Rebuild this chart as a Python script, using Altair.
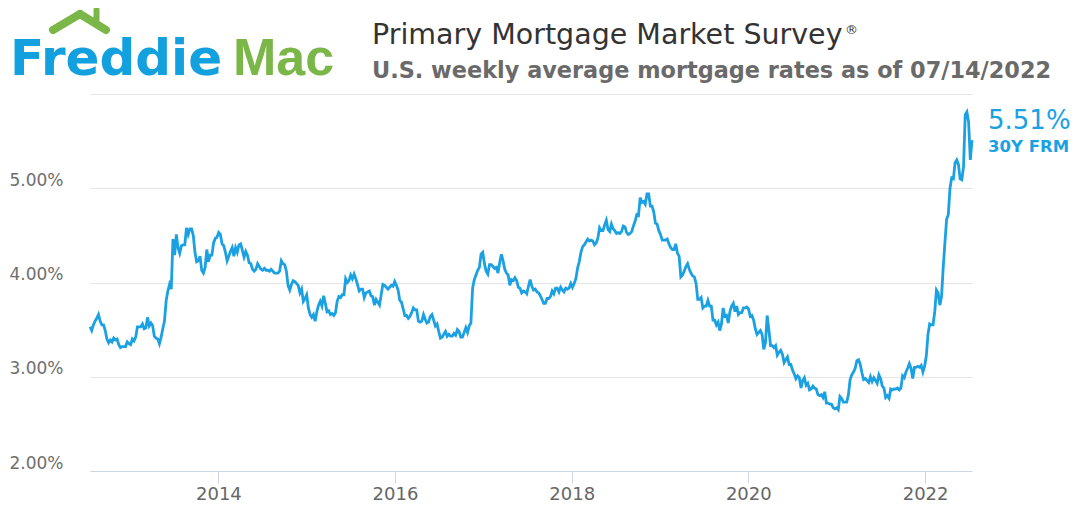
import altair as alt
import pandas as pd

# Weekly 30-year fixed rate (%), Freddie Mac PMMS, 2012-07-19 .. 2022-07-14
rates_2012 = [3.53, 3.49,
              3.55, 3.59, 3.62, 3.66, 3.59,
              3.55, 3.55, 3.49, 3.40,
              3.36, 3.39, 3.37, 3.41,
              3.39, 3.40, 3.34, 3.31, 3.32,
              3.32, 3.32, 3.37, 3.35]
rates_2013 = [3.34, 3.40, 3.38, 3.42, 3.53,
              3.53, 3.53, 3.56, 3.51,
              3.52, 3.63, 3.54, 3.57,
              3.54, 3.43, 3.41, 3.40,
              3.35, 3.42, 3.51, 3.59, 3.81,
              3.91, 3.98, 3.93, 4.46,
              4.29, 4.51, 4.37, 4.31,
              4.39, 4.40, 4.40, 4.58, 4.51,
              4.57, 4.57, 4.50, 4.32,
              4.22, 4.23, 4.28, 4.13, 4.10,
              4.16, 4.35, 4.22, 4.29,
              4.29, 4.42, 4.47, 4.48]
rates_2014 = [4.53, 4.51, 4.41, 4.39, 4.32,
              4.23, 4.28, 4.33, 4.37,
              4.28, 4.37, 4.32, 4.40,
              4.41, 4.34, 4.27, 4.33,
              4.29, 4.21, 4.20, 4.14, 4.12,
              4.14, 4.20, 4.17, 4.14,
              4.13, 4.15, 4.13, 4.13, 4.12,
              4.14, 4.12, 4.10, 4.10,
              4.10, 4.12, 4.23, 4.20,
              4.19, 4.12, 3.97, 3.92, 3.98,
              4.02, 4.01, 3.99, 3.97,
              3.89, 3.93, 3.80, 3.83, 3.87]
rates_2015 = [3.73, 3.66, 3.63, 3.66,
              3.59, 3.69, 3.76, 3.80,
              3.75, 3.86, 3.78, 3.69,
              3.70, 3.66, 3.67, 3.65, 3.68,
              3.80, 3.85, 3.84, 3.87,
              3.87, 4.04, 4.00, 4.02,
              4.08, 4.04, 4.09, 4.04, 3.98,
              3.91, 3.93, 3.93, 3.84,
              3.89, 3.90, 3.91, 3.86,
              3.85, 3.76, 3.82, 3.79, 3.76,
              3.87, 3.98, 3.97, 3.95,
              3.93, 3.95, 3.97, 3.96, 4.01]
rates_2016 = [3.97, 3.92, 3.81, 3.79,
              3.72, 3.65, 3.65, 3.62,
              3.64, 3.68, 3.73, 3.71, 3.71,
              3.59, 3.58, 3.59, 3.66,
              3.61, 3.57, 3.58, 3.64,
              3.66, 3.60, 3.54, 3.56, 3.48,
              3.41, 3.42, 3.45, 3.48,
              3.43, 3.45, 3.43, 3.43,
              3.46, 3.44, 3.50, 3.48, 3.42,
              3.42, 3.47, 3.52, 3.47,
              3.54, 3.57, 3.94, 4.03,
              4.08, 4.13, 4.16, 4.30, 4.32]
rates_2017 = [4.20, 4.12, 4.09, 4.19,
              4.19, 4.17, 4.15, 4.16,
              4.10, 4.21, 4.30, 4.23, 4.14,
              4.10, 4.08, 3.97, 4.03,
              4.02, 4.05, 4.02, 3.95,
              3.94, 3.89, 3.91, 3.90, 3.88,
              3.96, 4.03, 3.96, 3.92,
              3.93, 3.90, 3.89, 3.86, 3.82,
              3.78, 3.78, 3.83, 3.83,
              3.85, 3.91, 3.88, 3.94,
              3.94, 3.90, 3.95, 3.92, 3.90,
              3.94, 3.93, 3.94, 3.99]
rates_2018 = [3.95, 3.99, 4.04, 4.15,
              4.22, 4.32, 4.38, 4.40,
              4.43, 4.46, 4.44, 4.45, 4.44,
              4.40, 4.42, 4.47, 4.58,
              4.55, 4.55, 4.61, 4.66, 4.56,
              4.54, 4.62, 4.57, 4.55,
              4.52, 4.53, 4.52, 4.54,
              4.60, 4.59, 4.53, 4.51, 4.52,
              4.54, 4.60, 4.65, 4.72,
              4.71, 4.90, 4.85, 4.86,
              4.83, 4.94, 4.94, 4.81, 4.81,
              4.75, 4.63, 4.62, 4.55]
rates_2019 = [4.51, 4.45, 4.45, 4.45, 4.46,
              4.41, 4.37, 4.35, 4.35,
              4.41, 4.31, 4.28, 4.06,
              4.08, 4.12, 4.17, 4.20,
              4.14, 4.10, 4.07, 4.06, 3.99,
              3.82, 3.82, 3.84, 3.73,
              3.75, 3.75, 3.81, 3.75,
              3.75, 3.60, 3.60, 3.55, 3.58,
              3.49, 3.56, 3.73, 3.64,
              3.65, 3.57, 3.69, 3.75, 3.78,
              3.69, 3.75, 3.66, 3.68,
              3.68, 3.73, 3.73, 3.74]
rates_2020 = [3.72, 3.64, 3.65, 3.60, 3.51,
              3.45, 3.47, 3.49, 3.45,
              3.29, 3.36, 3.65, 3.50,
              3.33, 3.33, 3.31, 3.33, 3.23,
              3.26, 3.28, 3.24, 3.15,
              3.18, 3.21, 3.13, 3.13,
              3.07, 3.03, 2.98, 3.01, 2.99,
              2.88, 2.96, 2.99, 2.91,
              2.93, 2.86, 2.87, 2.90,
              2.88, 2.87, 2.81, 2.80, 2.81,
              2.78, 2.84, 2.72, 2.72,
              2.71, 2.71, 2.67, 2.66, 2.67]
rates_2021 = [2.65, 2.79, 2.77, 2.73,
              2.73, 2.73, 2.81, 2.97,
              3.02, 3.05, 3.09, 3.17,
              3.18, 3.13, 3.04, 2.97, 2.98,
              2.96, 2.94, 3.00, 2.95,
              2.99, 2.96, 2.93, 3.02,
              2.98, 2.90, 2.88, 2.78, 2.80,
              2.77, 2.87, 2.86, 2.87,
              2.87, 2.88, 2.86, 2.88, 3.01,
              2.99, 3.05, 3.09, 3.14,
              3.09, 2.98, 3.10, 3.10,
              3.11, 3.10, 3.12, 3.05, 3.11]
rates_2022 = [3.22, 3.45, 3.56, 3.55,
              3.55, 3.69, 3.92, 3.89,
              3.76, 3.85, 4.16, 4.42, 4.67,
              4.72, 5.00, 5.11, 5.10,
              5.27, 5.30, 5.25, 5.10,
              5.09, 5.23, 5.78, 5.81, 5.70,
              5.30, 5.51]

rates = (rates_2012 + rates_2013 + rates_2014 + rates_2015 + rates_2016 + rates_2017
         + rates_2018 + rates_2019 + rates_2020 + rates_2021 + rates_2022)
last_date = "2022-07-14"
first_date = "2012-07-19"
dates = pd.date_range(end=last_date, periods=len(rates), freq="7D")
df = pd.DataFrame({"date": dates, "rate": rates})

tick_years = [2014, 2016, 2018, 2020, 2022]
y_ticks = [2, 3, 4, 5, 6]

title_text = "Primary Mortgage Market Survey"
subtitle_text = "U.S. weekly average mortgage rates as of 07/14/2022"
latest_label = "5.51%"
series_label = "30Y FRM"

BLUE = "#1ba1e2"
LOGO_BLUE = "#13a0de"
LOGO_GREEN = "#7ab648"
FONT = "DejaVu Sans"

x_enc = alt.X(
    "date:T",
    scale=alt.Scale(domain=[first_date, last_date]),
    axis=alt.Axis(
        values=[alt.DateTime(year=y, month=1, date=1) for y in tick_years],
        format="%Y", grid=False, title=None,
        domainColor="#ccd6eb", tickColor="#ccd6eb", tickSize=12,
        labelPadding=2, labelFontSize=18, labelColor="#666666", labelFont=FONT,
        labelBaseline="top",
    ),
)
y_enc = alt.Y(
    "rate:Q",
    scale=alt.Scale(domain=[2, 6], nice=False, zero=False),
    axis=alt.Axis(
        values=y_ticks, title=None, domain=False, ticks=False, tickSize=0,
        labelExpr="datum.value >= 6 ? '' : format(datum.value, '.2f') + '%'",
        labelPadding=27, labelFontSize=17, labelColor="#6e6e6e", labelFont=FONT,
        labelBaseline="alphabetic", labelOffset=-3,
        gridColor="#e6e6e6", gridWidth=1,
    ),
)

line = alt.Chart(df).mark_line(color=BLUE, strokeWidth=2.8).encode(x=x_enc, y=y_enc)


def text_layer(s, px, py, size, color, weight="normal", font=FONT):
    return alt.Chart(pd.DataFrame({"t": [s]})).mark_text(
        align="left", baseline="alphabetic", fontSize=size, color=color,
        fontWeight=weight, font=font,
    ).encode(x=alt.value(px), y=alt.value(py), text="t:N")


def rule_layer(x1, y1, x2, y2, width, color):
    return alt.Chart(pd.DataFrame({"k": [0]})).mark_rule(
        color=color, strokeWidth=width, strokeCap="round"
    ).encode(x=alt.value(x1), y=alt.value(y1), x2=alt.value(x2), y2=alt.value(y2))


layers = [
    line,
    # Freddie Mac logo
    text_layer("Freddie", -80, -19, 50, LOGO_BLUE, "bold"),
    text_layer("Mac", 143, -19, 52, LOGO_GREEN, "bold", "Liberation Sans"),
    rule_layer(-37, -64, -10, -80, 8, LOGO_GREEN),
    rule_layer(-10, -80, 16, -64, 8, LOGO_GREEN),
    rule_layer(6.5, -84, 6.5, -74, 6, LOGO_GREEN),
    # titles
    text_layer(title_text, 282, -50, 28.5, "#333333"),
    text_layer("®", 755, -60, 13, "#333333"),
    text_layer(subtitle_text, 282, -16, 22.4, "#6a6a6a", "bold"),
    # latest value label
    text_layer(latest_label, 898, 35, 26, BLUE),
    text_layer(series_label, 898, 58, 16.5, BLUE, "bold"),
]

chart = alt.layer(*layers).properties(
    width=882, height=377,
    autosize=alt.AutoSizeParams(type="none"),
    padding={"left": 82, "top": 86, "right": 100, "bottom": 34},
    background="white",
).configure_view(stroke=None)

chart.save("out.html", embed_options={"renderer": "svg", "actions": False})
